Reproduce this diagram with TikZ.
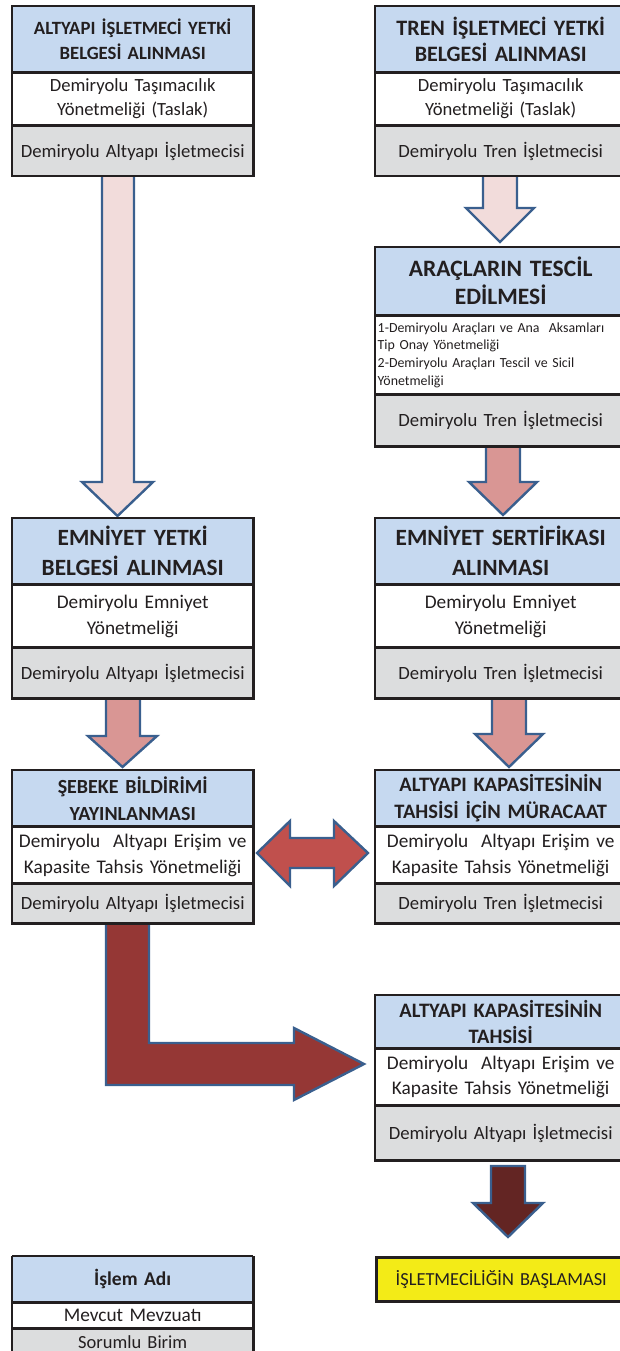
\documentclass[tikz,border=0pt]{standalone}
\usepackage{fontspec}
\setmainfont{Carlito}
\definecolor{hblue}{HTML}{C6D9F0}
\definecolor{ggray}{HTML}{DCDDDE}
\definecolor{txt}{HTML}{231F20}
\definecolor{ayellow}{HTML}{F3EB17}
\definecolor{aout}{HTML}{3A5F8E}
\definecolor{pinkA}{HTML}{F2DCDB}
\definecolor{pinkB}{HTML}{D99694}
\definecolor{redC}{HTML}{C0504D}
\definecolor{redD}{HTML}{953735}
\definecolor{redE}{HTML}{632523}
\tikzset{
  band/.style={draw=txt, line width=1.4pt, anchor=north west, align=center,
    text=txt, inner xsep=2pt, inner ysep=0pt},
  lcol/.style={minimum width=240pt, text width=236pt},
  rcol/.style={minimum width=250pt, text width=246pt},
  hdr/.style={band, fill=hblue},
  law/.style={band, fill=white},
  unit/.style={band, fill=ggray},
  frame/.style={draw=txt, line width=2.6pt},
  blockarrow/.style={draw=aout, line width=2.4pt, line join=miter},
  hf/.style 2 args={font=\bfseries\fontsize{#1}{#2}\selectfont},
  bf/.style 2 args={font=\fontsize{#1}{#2}\selectfont}
}
\begin{document}
\begin{tikzpicture}[x=1pt,y=-1pt]
\useasboundingbox (0,0) rectangle (620,1351);

% ---------- block arrows ----------
\draw[blockarrow, fill=pinkA] (102,173) -- (134,173) -- (134,482) -- (153,482) -- (117.5,516) -- (82,482) -- (102,482) -- cycle;
\draw[blockarrow, fill=pinkA] (483,173) -- (517,173) -- (517,208) -- (534,208) -- (500,242) -- (466,208) -- (483,208) -- cycle;
\draw[blockarrow, fill=pinkB] (486,443) -- (520,443) -- (520,482) -- (537,482) -- (503,515) -- (469,482) -- (486,482) -- cycle;
\draw[blockarrow, fill=pinkB] (106,694) -- (140,694) -- (140,736) -- (157,736) -- (122.5,767) -- (88,736) -- (106,736) -- cycle;
\draw[blockarrow, fill=pinkB] (492,694) -- (526,694) -- (526,734) -- (543,734) -- (509,767) -- (475,734) -- (492,734) -- cycle;
\draw[blockarrow, fill=redC] (257,853) -- (290,821) -- (290,838) -- (334,838) -- (334,821) -- (368,853) -- (334,886) -- (334,868) -- (290,868) -- (290,886) -- cycle;
\draw[blockarrow, fill=redD] (106,922) -- (149,922) -- (149,1043) -- (294,1043) -- (294,1028) -- (364,1064) -- (294,1100) -- (294,1085) -- (106,1085) -- cycle;
\draw[blockarrow, fill=redE] (491,1166) -- (525,1166) -- (525,1203) -- (543,1203) -- (508,1237) -- (473,1203) -- (491,1203) -- cycle;

% ---------- box 1 ----------
\node[hdr, lcol, hf={18.7}{25}, minimum height=65pt] (b1h) at (12,6) {ALTYAPI İŞLETMECİ YETKİ\\BELGESİ ALINMASI};
\node[law, lcol, bf={18.6}{24}, minimum height=52pt] (b1l) at (b1h.south west) {Demiryolu Taşımacılık\\Yönetmeliği (Taslak)};
\node[unit, lcol, bf={18.7}{24}, minimum height=49pt] (b1u) at (b1l.south west) {Demiryolu Altyapı İşletmecisi};
\draw[frame] (b1h.north west) rectangle (b1u.south east);

% ---------- box 2 ----------
\node[hdr, rcol, hf={22}{26}, minimum height=65pt] (b2h) at (375,6) {TREN İŞLETMECİ YETKİ\\BELGESİ ALINMASI};
\node[law, rcol, bf={18.6}{24}, minimum height=52pt] (b2l) at (b2h.south west) {Demiryolu Taşımacılık\\Yönetmeliği (Taslak)};
\node[unit, rcol, bf={18.7}{24}, minimum height=49pt] (b2u) at (b2l.south west) {Demiryolu Tren İşletmecisi};
\draw[frame] (b2h.north west) rectangle (b2u.south east);

% ---------- box 3 ----------
\node[hdr, rcol, hf={23.5}{28}, minimum height=67pt] (b3h) at (375,247) {ARAÇLARIN TESCİL\\EDİLMESİ};
\node[law, rcol, align=left, bf={13.9}{17.7}, minimum height=78pt] (b3l) at (b3h.south west) {1-Demiryolu Araçları ve Ana\ \ Aksamları\\Tip Onay Yönetmeliği\\2-Demiryolu Araçları Tescil ve Sicil\\Yönetmeliği};
\node[unit, rcol, bf={18.7}{24}, minimum height=50pt] (b3u) at (b3l.south west) {Demiryolu Tren İşletmecisi};
\draw[frame] (b3h.north west) rectangle (b3u.south east);

% ---------- box 4 ----------
\node[hdr, lcol, hf={23.3}{30}, minimum height=65pt] (b4h) at (12,518) {EMNİYET YETKİ\\BELGESİ ALINMASI};
\node[law, lcol, bf={19.3}{26}, minimum height=62pt] (b4l) at (b4h.south west) {Demiryolu Emniyet\\Yönetmeliği};
\node[unit, lcol, bf={18.7}{24}, minimum height=49pt] (b4u) at (b4l.south west) {Demiryolu Altyapı İşletmecisi};
\draw[frame] (b4h.north west) rectangle (b4u.south east);

% ---------- box 5 ----------
\node[hdr, rcol, hf={23.3}{30}, minimum height=65pt] (b5h) at (375,518) {EMNİYET SERTİFİKASI\\ALINMASI};
\node[law, rcol, bf={19.3}{26}, minimum height=62pt] (b5l) at (b5h.south west) {Demiryolu Emniyet\\Yönetmeliği};
\node[unit, rcol, bf={18.7}{24}, minimum height=49pt] (b5u) at (b5l.south west) {Demiryolu Tren İşletmecisi};
\draw[frame] (b5h.north west) rectangle (b5u.south east);

% ---------- box 6 ----------
\node[hdr, lcol, hf={20}{27}, minimum height=55pt] (b6h) at (12,770) {ŞEBEKE BİLDİRİMİ\\YAYINLANMASI};
\node[law, lcol, bf={19.3}{26}, minimum height=56pt, inner xsep=0pt, text width=240pt] (b6l) at (b6h.south west) {Demiryolu\ \ Altyapı Erişim ve\\Kapasite Tahsis Yönetmeliği};
\node[unit, lcol, bf={18.7}{24}, minimum height=38pt] (b6u) at (b6l.south west) {Demiryolu Altyapı İşletmecisi};
\draw[frame] (b6h.north west) rectangle (b6u.south east);

% ---------- box 6R ----------
\node[hdr, rcol, hf={20.5}{27}, minimum height=55pt] (b7h) at (375,770) {ALTYAPI KAPASİTESİNİN\\TAHSİSİ İÇİN MÜRACAAT};
\node[law, rcol, bf={19.3}{26}, minimum height=56pt] (b7l) at (b7h.south west) {Demiryolu\ \ Altyapı Erişim ve\\Kapasite Tahsis Yönetmeliği};
\node[unit, rcol, bf={18.7}{24}, minimum height=38pt] (b7u) at (b7l.south west) {Demiryolu Tren İşletmecisi};
\draw[frame] (b7h.north west) rectangle (b7u.south east);

% ---------- box 7 ----------
\node[hdr, rcol, hf={20.5}{26}, minimum height=52pt] (b8h) at (375,995) {ALTYAPI KAPASİTESİNİN\\TAHSİSİ};
\node[law, rcol, bf={19.3}{25}, minimum height=56pt] (b8l) at (b8h.south west) {Demiryolu\ \ Altyapı Erişim ve\\Kapasite Tahsis Yönetmeliği};
\node[unit, rcol, bf={18.7}{24}, minimum height=53pt] (b8u) at (b8l.south west) {Demiryolu Altyapı İşletmecisi};
\draw[frame] (b8h.north west) rectangle (b8u.south east);

% ---------- start ----------
\node[band, rcol, fill=ayellow, bf={18.4}{22}, minimum height=44pt, line width=2.6pt] (start) at (375,1256) {İŞLETMECİLİĞİN BAŞLAMASI};

% ---------- legend ----------
\node[hdr, lcol, hf={19.5}{22}, minimum height=45pt] (lgh) at (12,1256) {İşlem Adı};
\node[law, lcol, bf={19.3}{22}, minimum height=25pt] (lgl) at (lgh.south west) {Mevcut Mevzuatı};
\node[unit, lcol, bf={18.5}{22}, minimum height=25pt] (lgu) at (lgl.south west) {Sorumlu Birim};
\draw[frame] (lgh.north west) -- (lgu.north west |- 0,1360) (lgh.north east) -- (lgu.north east |- 0,1360) (lgh.north west) -- (lgh.north east);
\end{tikzpicture}
\end{document}
